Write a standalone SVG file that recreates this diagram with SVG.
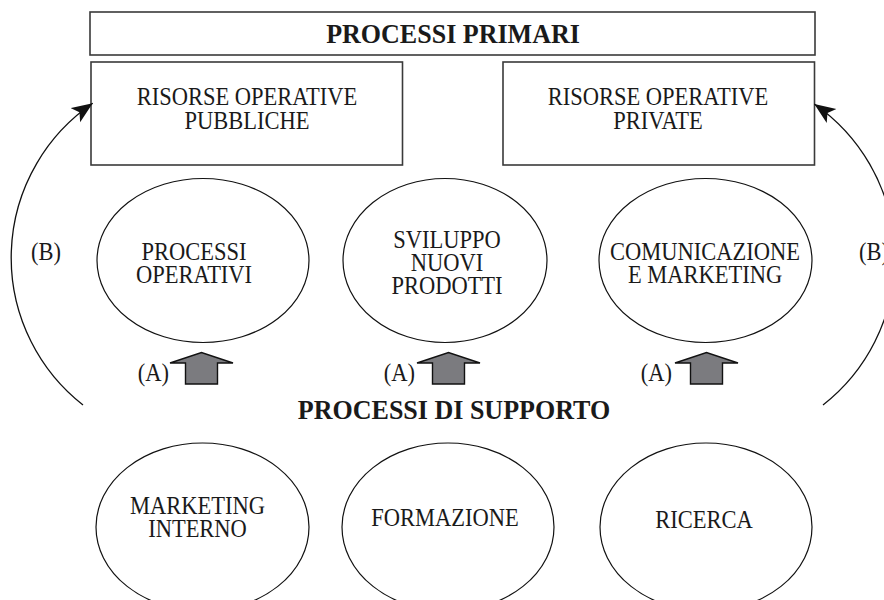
<svg xmlns="http://www.w3.org/2000/svg" width="884" height="600" viewBox="0 0 884 600">
  <style>
    .box { fill: #ffffff; stroke: #3a3a3a; stroke-width: 1.6; }
    .node { fill: #ffffff; stroke: #111111; stroke-width: 1.2; }
    .lbl { font-family: "Liberation Serif", "Times New Roman", serif; font-size: 25px; fill: #1a1a1a; text-anchor: middle; }
    .ttl { font-family: "Liberation Serif", "Times New Roman", serif; font-size: 28px; font-weight: bold; fill: #1a1a1a; text-anchor: middle; }
    .tag { font-family: "Liberation Serif", "Times New Roman", serif; font-size: 25px; fill: #1a1a1a; }
    .arc { fill: none; stroke: #111111; stroke-width: 1.3; }
    .block { fill: #7b7b7f; stroke: #111111; stroke-width: 1.4; stroke-linejoin: miter; }
  </style>
  <defs>
    <marker id="head" markerUnits="userSpaceOnUse" markerWidth="26" markerHeight="20" refX="21" refY="8.5" orient="auto">
      <path d="M0,0 L21,8.5 L0,17 L5,8.5 Z" fill="#111111"/>
    </marker>
  </defs>

  <rect width="884" height="600" fill="#ffffff"/>

  <!-- primary processes header -->
  <g id="processi-primari">
    <rect class="box" x="90" y="12" width="725" height="43"/>
    <text class="ttl" transform="translate(453,42.5) scale(0.93,1)">PROCESSI PRIMARI</text>
  </g>

  <g id="risorse-pubbliche">
    <rect class="box" x="91" y="62" width="311.5" height="103"/>
    <text class="lbl" transform="translate(247,105) scale(0.9,1)">RISORSE OPERATIVE</text>
    <text class="lbl" transform="translate(247,129) scale(0.9,1)">PUBBLICHE</text>
  </g>

  <g id="risorse-private">
    <rect class="box" x="503" y="62" width="311.5" height="103"/>
    <text class="lbl" transform="translate(658,105) scale(0.9,1)">RISORSE OPERATIVE</text>
    <text class="lbl" transform="translate(658,129) scale(0.9,1)">PRIVATE</text>
  </g>

  <!-- primary process ellipses -->
  <g id="processi-operativi">
    <ellipse class="node" cx="203" cy="260.5" rx="106" ry="82"/>
    <text class="lbl" transform="translate(194,259.5) scale(0.9,1)">PROCESSI</text>
    <text class="lbl" transform="translate(194,283) scale(0.9,1)">OPERATIVI</text>
  </g>

  <g id="sviluppo-nuovi-prodotti">
    <ellipse class="node" cx="445" cy="260.5" rx="102" ry="82"/>
    <text class="lbl" transform="translate(447,248) scale(0.9,1)">SVILUPPO</text>
    <text class="lbl" transform="translate(447,271) scale(0.9,1)">NUOVI</text>
    <text class="lbl" transform="translate(447,294) scale(0.9,1)">PRODOTTI</text>
  </g>

  <g id="comunicazione-marketing">
    <ellipse class="node" cx="705.5" cy="260.5" rx="106.5" ry="82"/>
    <text class="lbl" transform="translate(705,259.5) scale(0.9,1)">COMUNICAZIONE</text>
    <text class="lbl" transform="translate(705,283) scale(0.9,1)">E MARKETING</text>
  </g>

  <!-- support processes -->
  <g id="processi-di-supporto">
    <text class="ttl" transform="translate(454,419) scale(0.93,1)">PROCESSI DI SUPPORTO</text>
  </g>

  <g id="marketing-interno">
    <ellipse class="node" cx="202.5" cy="527" rx="106.5" ry="84"/>
    <text class="lbl" transform="translate(197.5,513.5) scale(0.9,1)">MARKETING</text>
    <text class="lbl" transform="translate(197.5,537) scale(0.9,1)">INTERNO</text>
  </g>

  <g id="formazione">
    <ellipse class="node" cx="448" cy="527" rx="106" ry="84"/>
    <text class="lbl" transform="translate(445,526) scale(0.9,1)">FORMAZIONE</text>
  </g>

  <g id="ricerca">
    <ellipse class="node" cx="706" cy="527" rx="106" ry="84"/>
    <text class="lbl" transform="translate(704,528) scale(0.9,1)">RICERCA</text>
  </g>

  <!-- connectors -->
  <g id="connectors">
    <!-- (B) feedback arcs -->
    <path class="arc" d="M83,405 A187,187 0 0 1 92.7,103.3" marker-end="url(#head)"/>
    <path class="arc" d="M823,405 A187,187 0 0 0 814.3,104" marker-end="url(#head)"/>
    <text class="tag" transform="translate(31,260) scale(0.9,1)">(B)</text>
    <text class="tag" transform="translate(859,260) scale(0.9,1)">(B)</text>

    <!-- (A) support arrows -->
    <polygon class="block" points="170,363 201.5,352.5 233,363 217.5,363 217.5,384 185.5,384 185.5,363"/>
    <polygon class="block" points="417,363 448.5,352.5 480,363 464.5,363 464.5,384 432.5,384 432.5,363"/>
    <polygon class="block" points="675,363 706.5,352.5 738,363 722.5,363 722.5,384 690.5,384 690.5,363"/>
    <text class="tag" text-anchor="end" transform="translate(169,381) scale(0.9,1)">(A)</text>
    <text class="tag" text-anchor="end" transform="translate(415,381) scale(0.9,1)">(A)</text>
    <text class="tag" text-anchor="end" transform="translate(672,381) scale(0.9,1)">(A)</text>
  </g>
</svg>
